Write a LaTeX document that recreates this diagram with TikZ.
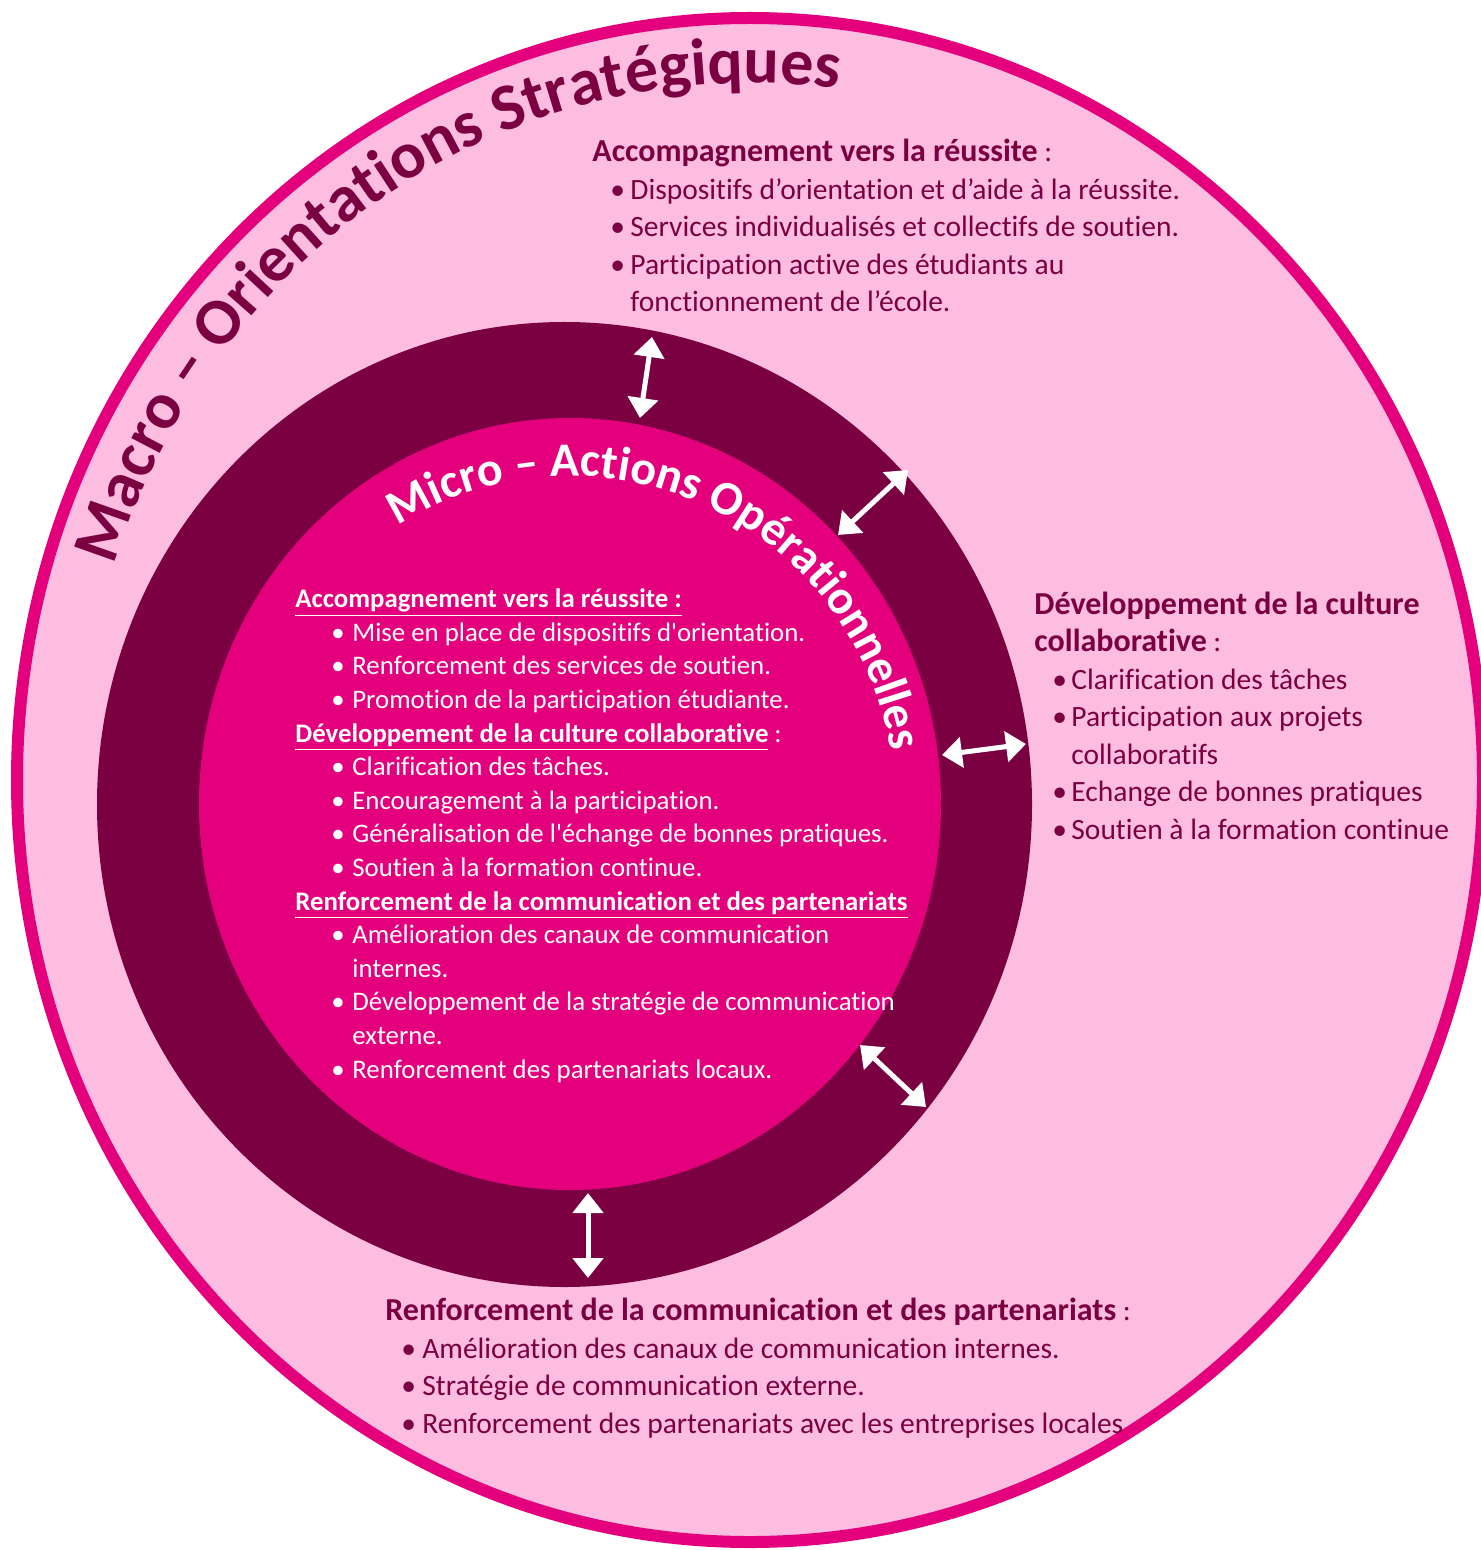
\documentclass[tikz,border=0pt]{standalone}
\usepackage{fontspec}
\setmainfont{Carlito}[Ligatures={TeXOff,NoCommon}]
\usepackage{tikz}
\usetikzlibrary{shapes.geometric, arrows.meta, decorations.text}
\definecolor{macropink}{HTML}{FCBDE0}
\definecolor{macroline}{HTML}{E4007C}
\definecolor{ringmaroon}{HTML}{7B0042}
\definecolor{micromagenta}{HTML}{E4007C}
\definecolor{textmaroon}{HTML}{7B0042}

\newcommand{\bul}[1][10pt]{\makebox[#1][l]{•}}
\newcommand{\headfont}{\fontsize{16}{18.75}\bfseries\selectfont}

\begin{document}
\begin{tikzpicture}[x=0.5pt, y=0.5pt,
  zone/.style={ellipse, inner sep=0pt, outer sep=0pt},
  twoway/.style={{Triangle[length=10pt,width=15pt]}-{Triangle[length=10pt,width=15pt]}, line width=2.5pt, white},
  outerlist/.style={anchor=base west, inner sep=0pt, align=left, text=textmaroon, font=\fontsize{14.75}{18.75}\selectfont},
  innerlist/.style={anchor=base west, inner sep=0pt, align=left, text=white, font=\fontsize{13.4}{16.8}\selectfont}
]
  \useasboundingbox (0,0) rectangle (1480,-1550);

  % three zones
  \node[zone, draw=macroline, fill=macropink, line width=6pt, minimum width=733pt, minimum height=762pt] (macro) at (750,-780) {};
  \node[zone, fill=ringmaroon, minimum width=467.5pt, minimum height=482.5pt] (ring) at (564.5,-804.5) {};
  \node[zone, fill=micromagenta, minimum width=371pt, minimum height=386pt] (micro) at (570,-804) {};

  % arrow ends
  \coordinate (t1) at (652,-337);  \coordinate (t2) at (640,-418);
  \coordinate (d1) at (908,-470);  \coordinate (d2) at (838,-535);
  \coordinate (r1) at (942,-755);  \coordinate (r2) at (1026,-744);
  \coordinate (b1) at (860,-1045); \coordinate (b2) at (926,-1107);
  \coordinate (v1) at (588,-1193); \coordinate (v2) at (588,-1278);

  \draw[twoway] (t1) -- (t2);
  \draw[twoway] (d1) -- (d2);
  \draw[twoway] (r1) -- (r2);
  \draw[twoway] (b1) -- (b2);
  \draw[twoway] (v1) -- (v2);

  % curved titles
  \path[decorate, decoration={text along path, text align=center, text color=textmaroon,
      text={|\fontsize{33}{34}\bfseries\selectfont|Macro – Orientations Stratégiques}}]
    (macro.center) ++(161.3:668 and 697) arc[start angle=161.3, end angle=83.3, x radius=668, y radius=697];
  \path[decorate, decoration={text along path, text align=left, text color=white,
      text={|\fontsize{24}{25}\bfseries\selectfont|Micro – Actions Opérationnelles}}]
    (micro.center) ++(122:325 and 328) arc[start angle=122, end angle=-20, x radius=325, y radius=328];

  % macro texts (base = last line)
  \node[outerlist] (accmacro) at (592,-312) {{\headfont Accompagnement vers la réussite} :\\
    \hspace*{9pt}\bul Dispositifs d’orientation et d’aide à la réussite.\\
    \hspace*{9pt}\bul Services individualisés et collectifs de soutien.\\
    \hspace*{9pt}\bul Participation active des étudiants au\\
    \hspace*{19pt}fonctionnement de l’école.};
  \node[outerlist] (devmacro) at (1034,-839) {{\headfont Développement de la culture}\\
    {\headfont collaborative} :\\
    \hspace*{9pt}\bul[9.5pt]Clarification des tâches\\
    \hspace*{9pt}\bul[9.5pt]Participation aux projets\\
    \hspace*{18.5pt}collaboratifs\\
    \hspace*{9pt}\bul[9.5pt]Echange de bonnes pratiques\\
    \hspace*{9pt}\bul[9.5pt]Soutien à la formation continue};
  \node[outerlist] (renmacro) at (385,-1433) {{\headfont Renforcement de la communication et des partenariats} :\\
    \hspace*{8pt}\bul[10.5pt]Amélioration des canaux de communication internes.\\
    \hspace*{8pt}\bul[10.5pt]Stratégie de communication externe.\\
    \hspace*{8pt}\bul[10.5pt]Renforcement des partenariats avec les entreprises locales};

  % micro texts
  \node[innerlist] (microlist) at (295,-1078) {\underline{\textbf{Accompagnement vers la réussite :}}\\
    \hspace*{18pt}\bul[10.5pt]Mise en place de dispositifs d'orientation.\\
    \hspace*{18pt}\bul[10.5pt]Renforcement des services de soutien.\\
    \hspace*{18pt}\bul[10.5pt]Promotion de la participation étudiante.\\
    \underline{\textbf{Développement de la culture collaborative}} :\\
    \hspace*{18pt}\bul[10.5pt]Clarification des tâches.\\
    \hspace*{18pt}\bul[10.5pt]Encouragement à la participation.\\
    \hspace*{18pt}\bul[10.5pt]Généralisation de l'échange de bonnes pratiques.\\
    \hspace*{18pt}\bul[10.5pt]Soutien à la formation continue.\\
    \underline{\textbf{Renforcement de la communication et des partenariats}}\\
    \hspace*{18pt}\bul[10.5pt]Amélioration des canaux de communication\\
    \hspace*{28.5pt}internes.\\
    \hspace*{18pt}\bul[10.5pt]Développement de la stratégie de communication\\
    \hspace*{28.5pt}externe.\\
    \hspace*{18pt}\bul[10.5pt]Renforcement des partenariats locaux.};
\end{tikzpicture}
\end{document}
